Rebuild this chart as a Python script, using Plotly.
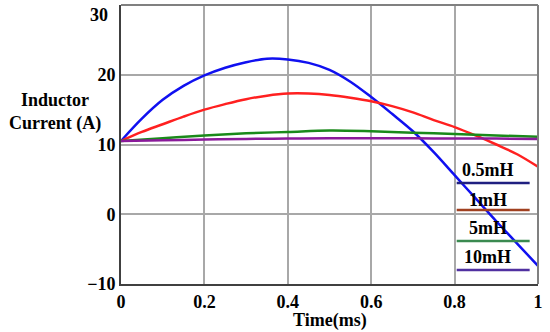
import plotly.graph_objects as go

t = [0, 0.05, 0.1, 0.15, 0.2, 0.25, 0.3, 0.35, 0.4, 0.45, 0.5,
     0.55, 0.6, 0.65, 0.7, 0.75, 0.8, 0.85, 0.9, 0.95, 1.0]
i_05mH = [10.5, 13.7, 16.4, 18.4, 19.9, 21.0, 21.8, 22.3, 22.2, 21.7, 20.7,
          19.0, 16.8, 14.4, 11.9, 8.9, 5.6, 2.3, -1.0, -4.2, -7.4]
i_1mH = [10.5, 11.8, 12.9, 14.0, 15.0, 15.8, 16.5, 17.0, 17.3, 17.3, 17.1,
         16.7, 16.2, 15.5, 14.6, 13.5, 12.5, 11.3, 10.0, 8.6, 6.8]
t_slow = [0, 0.1, 0.2, 0.3, 0.4, 0.5, 0.6, 0.7, 0.8, 0.9, 1.0]
i_5mH = [10.5, 10.9, 11.3, 11.6, 11.8, 12.0, 11.9, 11.7, 11.5, 11.3, 11.1]
i_10mH = [10.5, 10.6, 10.7, 10.8, 10.85, 10.9, 10.9, 10.9, 10.85, 10.85, 10.8]

labels = ["0.5mH", "1mH", "5mH", "10mH"]
curve_colors = ["#1010f0", "#ff2020", "#1a8a1a", "#8a1a9a"]
legend_colors = ["#202080", "#a04020", "#3a8a50", "#5030a0"]

x_ticks = [0, 0.2, 0.4, 0.6, 0.8, 1]
x_ticktext = ["0", "0.2", "0.4", "0.6", "0.8", "1"]
y_ticks = [-10, 0, 10, 20, 30]
y_ticktext = ["\u221210", "0", "10", "20", "30"]

FONT = "Liberation Serif"
FS = 18

fig = go.Figure()
series = [(t, i_05mH), (t, i_1mH), (t_slow, i_5mH), (t_slow, i_10mH)]
for (xs, ys), name, c in zip(series, labels, curve_colors):
    fig.add_trace(go.Scatter(x=xs, y=ys, mode="lines", name=name,
                             line=dict(color=c, width=2.5, shape="spline"),
                             showlegend=False))

# custom legend: label text above a colored line
leg_y_text = [0.41, 0.30, 0.20, 0.095]
leg_y_line = [0.362, 0.265, 0.154, 0.05]
for lab, col, yt, yl in zip(labels, legend_colors, leg_y_text, leg_y_line):
    fig.add_annotation(x=0.88, y=yt, xref="paper", yref="paper", xanchor="center",
                       yanchor="middle", text="<b>%s</b>" % lab,
                       showarrow=False, font=dict(family=FONT, size=FS, color="black"))
    fig.add_shape(type="line", xref="paper", yref="paper", x0=0.805, x1=0.98,
                  y0=yl, y1=yl, line=dict(color=col, width=2.5))

# top tick label drawn inside the figure (it sits below the top frame in the reference)
tick_labels_shown = ["<b>%s</b>" % s for s in y_ticktext[:-1]] + [""]
fig.add_annotation(x=0, y=y_ticks[-1], xref="paper", yref="y", xanchor="right",
                   yanchor="top", xshift=-11, yshift=2, text="<b>%s</b>" % y_ticktext[-1],
                   showarrow=False, font=dict(family=FONT, size=FS, color="black"))

fig.add_annotation(x=-0.158, y=0.615, xref="paper", yref="paper",
                   xanchor="center", yanchor="middle",
                   text="<b>Inductor<br>Current (A)</b>", showarrow=False,
                   font=dict(family=FONT, size=FS, color="black"))
fig.add_annotation(x=0.5, y=-0.085, xref="paper", yref="paper",
                   xanchor="center", yanchor="top",
                   text="<b>Time(ms)</b>", showarrow=False,
                   font=dict(family=FONT, size=FS, color="black"))

# frame
fig.add_shape(type="line", xref="paper", yref="paper", x0=0, x1=1, y0=1, y1=1,
              line=dict(color="#808080", width=2))
fig.add_shape(type="line", xref="paper", yref="paper", x0=1, x1=1, y0=0, y1=1,
              line=dict(color="#808080", width=2))

fig.update_layout(
    width=550, height=332,
    margin=dict(l=121, r=12, t=5, b=48),
    paper_bgcolor="white", plot_bgcolor="white",
    font=dict(family=FONT, size=FS, color="black"),
    xaxis=dict(range=[0, 1], tickvals=x_ticks, ticktext=["<b>%s</b>" % s for s in x_ticktext],
               showgrid=True, gridcolor="#a8a8a8", gridwidth=1.5,
               showline=True, linecolor="#404040", linewidth=2,
               zeroline=False, ticks="", ticklen=0, ticklabeloverflow="allow",
               automargin=False),
    yaxis=dict(range=[-10, 30], tickvals=y_ticks, ticktext=tick_labels_shown,
               showgrid=True, gridcolor="#a8a8a8", gridwidth=1.5,
               showline=True, linecolor="#404040", linewidth=2,
               zeroline=False, ticks="", ticklen=0, ticklabeloverflow="allow",
               automargin=False),
)

fig.write_html("out.html", config={"displayModeBar": False},
               post_script="document.body.style.margin='0';")
